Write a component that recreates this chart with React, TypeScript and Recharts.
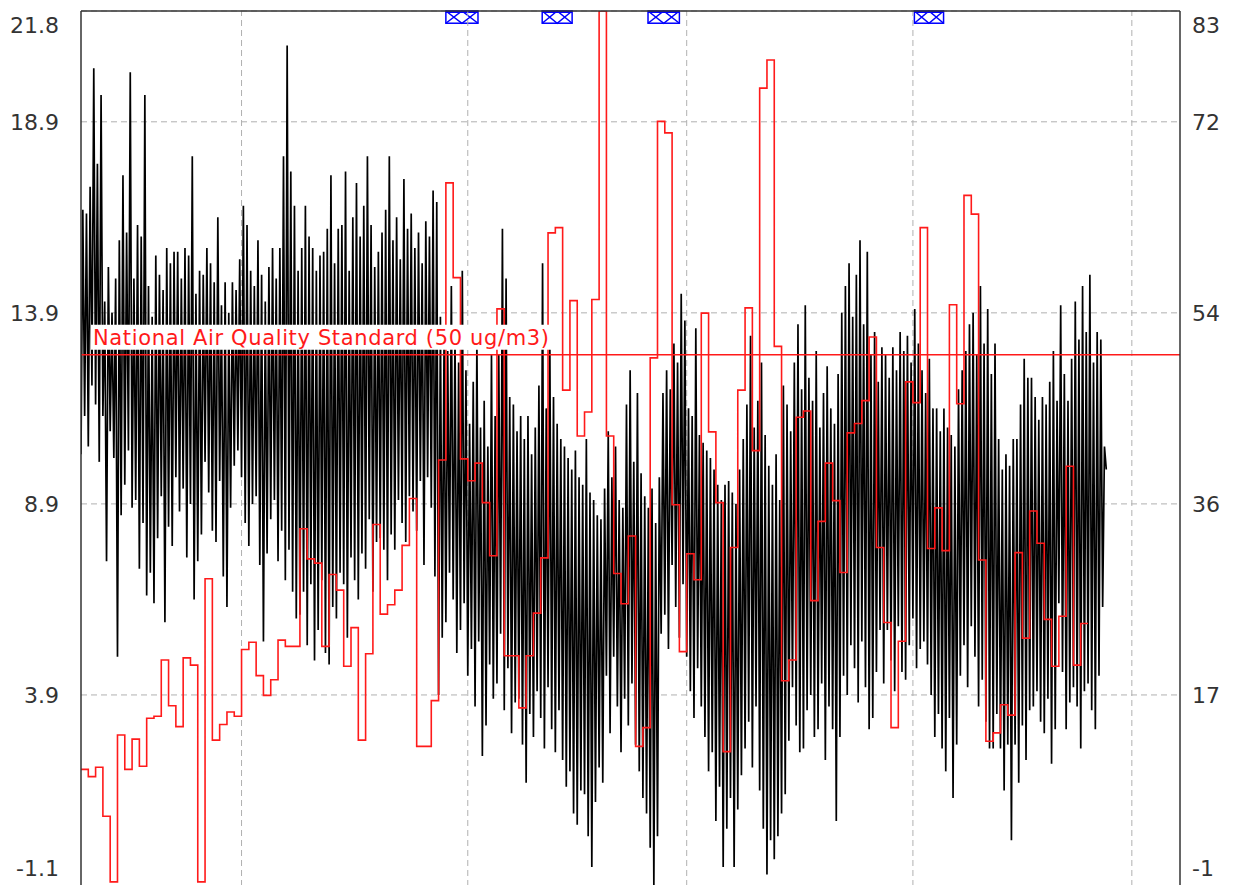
import React from 'react';
import { LineChart, Line, XAxis, YAxis, CartesianGrid, ReferenceLine, ReferenceArea } from 'recharts';

// temperature (deg C), 4 readings per day, left axis
const temperature = [
  10.2, 16.6, 11.2, 16.5, 10.4, 17.2, 12.0, 20.3, 11.5, 17.8, 10.0, 19.6, 11.2, 14.2, 7.4, 15.1,
  10.8, 13.9, 10.1, 14.8, 4.9, 15.8, 8.6, 17.5, 9.4, 16.0, 10.3, 20.2, 8.8, 14.8, 9.0, 16.2,
  7.2, 15.9, 8.4, 19.6, 6.5, 14.6, 7.1, 13.8, 6.3, 15.4, 8.0, 14.9, 9.1, 14.5, 5.8, 15.6,
  8.3, 15.2, 7.8, 15.5, 9.6, 15.5, 8.7, 14.8, 9.3, 15.6, 7.5, 15.4, 8.9, 18.0, 6.4, 14.4,
  7.4, 15.0, 8.1, 14.9, 10.0, 15.6, 9.2, 15.2, 8.2, 14.7, 7.9, 16.4, 9.5, 14.1, 7.0, 14.7,
  6.2, 13.9, 8.8, 14.7, 9.9, 14.5, 10.3, 15.3, 9.6, 16.7, 8.4, 16.2, 7.8, 15.0, 8.9, 14.6,
  9.1, 15.8, 7.3, 14.9, 5.3, 14.2, 7.6, 15.1, 8.5, 15.6, 9.0, 14.8, 7.4, 15.6, 8.2, 18.0,
  6.9, 20.9, 7.7, 17.6, 6.6, 16.7, 5.9, 15.0, 6.0, 15.6, 6.6, 16.7, 5.2, 15.9, 6.8, 15.6,
  4.8, 15.0, 5.6, 15.4, 6.9, 15.5, 5.0, 16.1, 4.7, 17.5, 6.2, 15.2, 5.9, 16.1, 7.1, 16.2,
  6.8, 17.6, 5.4, 15.0, 7.5, 16.4, 6.9, 17.3, 6.4, 15.9, 7.6, 16.7, 7.2, 18.0, 8.5, 16.2,
  6.6, 15.1, 7.9, 15.5, 8.0, 16.0, 7.7, 16.6, 6.9, 18.0, 8.1, 15.8, 7.7, 16.4, 9.0, 15.3,
  8.4, 17.4, 7.9, 16.1, 9.1, 16.5, 8.7, 15.6, 8.2, 16.0, 9.5, 15.2, 7.3, 16.3, 9.6, 15.9,
  8.8, 17.1, 7.0, 16.8, 3.9, 13.8, 5.4, 13.1, 5.8, 12.9, 7.1, 14.6, 6.4, 13.4, 5.0, 12.6,
  5.6, 15.0, 6.3, 12.4, 4.4, 11.0, 5.1, 12.1, 3.6, 13.2, 5.3, 10.9, 2.3, 11.6, 3.1, 10.4,
  4.7, 12.8, 3.8, 11.2, 4.2, 12.8, 5.5, 16.1, 3.5, 14.8, 4.6, 11.7, 2.9, 11.5, 3.7, 10.8,
  3.8, 11.2, 2.6, 10.6, 1.6, 11.2, 3.4, 10.2, 2.8, 10.9, 4.0, 12.0, 3.3, 15.2, 2.5, 11.4,
  4.1, 13.0, 3.0, 11.7, 2.4, 11.0, 3.5, 10.6, 2.2, 10.4, 1.5, 10.1, 1.9, 9.8, 0.8, 10.3,
  0.5, 9.6, 1.4, 9.4, 1.3, 10.6, 0.2, 9.2, -0.6, 9.0, 1.1, 8.6, 2.0, 8.5, 1.6, 9.3,
  4.4, 10.8, 2.9, 9.6, 4.9, 10.4, 3.6, 9.0, 2.4, 8.8, 3.8, 11.5, 3.1, 12.4, 4.2, 10.0,
  2.6, 11.8, 1.9, 9.7, 1.2, 9.1, 0.8, 8.8, -0.1, 9.3, -1.1, 8.4, 0.2, 9.6, 5.5, 11.8,
  6.0, 12.4, 5.1, 11.9, 7.3, 13.1, 6.2, 12.6, 5.4, 14.4, 6.8, 13.7, 4.9, 11.4, 4.0, 11.2,
  3.3, 13.5, 4.6, 10.7, 3.6, 10.5, 2.8, 10.3, 1.9, 10.1, 2.4, 9.8, 0.6, 9.4, 1.5, 9.0,
  -0.6, 9.4, 0.4, 9.5, 1.2, 9.2, -0.6, 8.9, 0.9, 9.8, 1.8, 10.6, 2.5, 11.5, 3.2, 13.3,
  2.0, 10.9, 3.6, 11.6, 1.4, 12.6, 0.4, 10.7, -0.8, 9.9, 0.1, 9.4, -0.4, 10.2, 0.2, 9.0,
  0.8, 12.0, 1.3, 11.5, 2.7, 10.8, 4.1, 12.6, 3.1, 13.6, 2.4, 11.9, 2.5, 14.1, 3.5, 12.2,
  3.9, 11.6, 2.8, 12.9, 3.0, 10.9, 4.2, 11.8, 2.2, 12.5, 3.6, 11.4, 3.0, 11.0, 0.6, 12.3,
  2.8, 13.9, 4.4, 14.6, 3.9, 15.2, 5.2, 13.8, 4.6, 14.9, 3.7, 15.8, 5.3, 13.6, 4.1, 15.5,
  3.0, 12.8, 3.3, 13.4, 4.5, 12.1, 5.6, 13.0, 4.2, 12.8, 5.6, 12.2, 4.8, 13.0, 4.0, 12.4,
  5.7, 13.4, 4.5, 12.9, 4.3, 13.3, 5.2, 12.6, 5.9, 14.0, 4.6, 13.1, 5.1, 12.4, 5.3, 11.8,
  4.7, 12.7, 3.9, 11.4, 2.8, 11.4, 3.4, 10.8, 2.5, 11.4, 1.9, 10.9, 3.3, 10.7, 1.2, 10.4,
  2.6, 11.9, 4.4, 12.4, 5.2, 12.9, 4.1, 13.6, 5.7, 13.9, 4.9, 12.8, 3.6, 14.6, 4.3, 13.1,
  3.2, 14.0, 2.5, 12.3, 2.5, 13.1, 3.4, 10.6, 2.5, 9.8, 1.4, 10.2, 2.6, 9.9, 0.1, 10.6,
  2.6, 10.6, 1.6, 11.5, 3.1, 12.7, 2.2, 12.2, 3.5, 12.2, 3.6, 11.7, 4.0, 11.1, 3.2, 11.7,
  2.9, 11.5, 3.8, 12.1, 2.1, 12.9, 3.0, 11.6, 6.3, 14.1, 4.5, 12.3, 3.0, 11.6, 3.7, 12.7,
  4.1, 14.2, 3.6, 13.2, 2.5, 14.6, 4.0, 13.4, 4.2, 14.9, 3.5, 12.6, 3.0, 13.4, 4.4, 13.2,
  6.2, 10.4, 9.8,
];

// daily PM10 (ug/m3), right axis
const pm10 = [
  10.2, 9.5, 10.4, 5.7, -0.6, 13.5, 10.2, 13.1, 10.5, 15.1, 15.3, 20.7, 16.3, 14.3, 20.9,
  20.2, -0.6, 28.5, 13.0, 14.5, 15.7, 15.3, 21.7, 22.4, 19.2, 17.3, 18.8, 22.6, 22.0, 22.0,
  33.3, 30.4, 30.0, 22.0, 28.9, 27.4, 20.1, 23.8, 13.0, 21.3,
  33.7, 25.1, 26.0, 27.4, 31.7, 36.2, 12.4, 12.4, 16.8, 39.9,
  66.5, 57.4, 40.0, 37.9, 39.6, 35.8, 30.7, 54.4, 21.1, 21.1,
  16.1, 21.1, 25.2, 30.5, 61.7, 62.2, 46.6, 55.2, 42.2, 44.5,
  55.3, 83.0, 42.2, 29.0, 26.1, 32.6, 12.4, 14.2, 49.7, 72.4,
  71.3, 35.6, 21.5, 30.9, 28.4, 54.0, 42.6, 35.8, 11.9, 31.5,
  46.6, 54.5, 40.8, 75.6, 78.3, 50.8, 18.7, 20.7, 44.0, 44.6,
  26.4, 34.0, 39.6, 36.0, 29.1, 42.5, 43.4, 45.6, 51.7, 31.5,
  24.3, 14.2, 22.5, 47.4, 45.4, 62.2, 31.4, 35.3, 31.2, 54.8,
  45.3, 65.3, 63.5, 30.3, 12.9, 13.7, 16.4, 15.4, 31.0, 22.8,
  35.0, 31.9, 24.6, 20.1, 24.9, 39.3, 20.2, 24.2,
];

const monthStarts = [22, 53, 83, 114, 144];
const episodes = [
  [50, 54.4],
  [63.2, 67.3],
  [77.7, 82],
  [114.2, 118.2],
];
const leftTicks = [-1.1, 3.9, 8.9, 13.9, 18.9, 21.8];
const STANDARD = 50;

const LEFT_MIN = -1.1;
const LEFT_MAX = 21.8;
const RIGHT_MIN = -1;
const RIGHT_MAX = 83;
// right ticks sit on the same gridlines as the left ones
const rightTicks = leftTicks.map(
  (v) => RIGHT_MIN + ((v - LEFT_MIN) * (RIGHT_MAX - RIGHT_MIN)) / (LEFT_MAX - LEFT_MIN)
);

const tempData = temperature.map((v, i) => ({ x: i * 0.25, temp: v }));
const pmData = pm10
  .map((v, i) => ({ x: i, pm: v }))
  .concat([{ x: pm10.length, pm: pm10[pm10.length - 1] }]);

const PLOT_TOP = 3;
const PLOT_BOTTOM = 878;
const FONT = '"DejaVu Sans", Verdana, sans-serif';
const GRID = '#b0b0b0';

function clampY(y: number) {
  if (y < PLOT_TOP + 14) return PLOT_TOP + 14;
  if (y > PLOT_BOTTOM - 18) return PLOT_BOTTOM - 18;
  return y;
}

const LeftTick = (props: any) => {
  const { x, y, payload } = props;
  return (
    <text x={x} y={clampY(y)} dy={8} textAnchor="end" fill="#333" fontSize={22} fontFamily={FONT}>
      {Number(payload.value).toFixed(1)}
    </text>
  );
};

const RightTick = (props: any) => {
  const { x, y, payload } = props;
  return (
    <text x={x} y={clampY(y)} dy={8} textAnchor="start" fill="#333" fontSize={22} fontFamily={FONT}>
      {Math.round(payload.value)}
    </text>
  );
};

const StandardLabel = (props: any) => {
  const { viewBox } = props;
  const x = viewBox.x + 12;
  const y = viewBox.y;
  return (
    <g>
      <rect x={x - 2} y={y - 30} width={462} height={25} fill="#fff" />
      <text x={x} y={y - 10} fill="#ff1a1a" fontSize={21} fontFamily={FONT} textLength={456}>
        National Air Quality Standard (50 ug/m3)
      </text>
    </g>
  );
};

const HatchBox = (props: any) => {
  const { x, y, width, height } = props;
  const half = width / 2;
  return (
    <g>
      <rect x={x} y={y} width={width} height={height} fill="#fff" stroke="#0000ff" strokeWidth={1.5} />
      <path
        d={`M${x},${y} L${x + half},${y + height} L${x + width},${y} M${x},${y + height} L${x + half},${y} L${x + width},${y + height}`}
        stroke="#0000ff"
        strokeWidth={1.5}
        fill="none"
      />
      <line x1={x} y1={y + 1} x2={x + width} y2={y + 1} stroke="#0000ff" strokeWidth={2} />
    </g>
  );
};

export default function App() {
  return (
    <div style={{ width: 1226, height: 885, marginBottom: -8 }}>
      <LineChart width={1226} height={885} margin={{ top: 3, right: 0, bottom: 7, left: 0 }}>
        <CartesianGrid stroke={GRID} strokeDasharray="6 4" vertical={false} yAxisId="left" />
        <XAxis
          dataKey="x"
          type="number"
          domain={[0, 150.6]}
          allowDataOverflow
          ticks={monthStarts}
          tick={false}
          tickLine={false}
          height={0}
          axisLine={{ stroke: '#333', strokeWidth: 1.5 }}
        />
        <YAxis
          yAxisId="left"
          type="number"
          domain={[LEFT_MIN, LEFT_MAX]}
          allowDataOverflow
          ticks={leftTicks}
          tick={<LeftTick />}
          tickLine={false}
          tickSize={0}
          tickMargin={22}
          width={73}
          interval={0}
          axisLine={{ stroke: '#333', strokeWidth: 1.5 }}
        />
        <YAxis
          yAxisId="right"
          orientation="right"
          type="number"
          domain={[RIGHT_MIN, RIGHT_MAX]}
          allowDataOverflow
          ticks={rightTicks}
          tick={<RightTick />}
          tickLine={false}
          tickSize={0}
          tickMargin={12}
          width={54}
          interval={0}
          axisLine={{ stroke: '#333', strokeWidth: 1.5 }}
        />
        {monthStarts.map((d) => (
          <ReferenceLine key={d} yAxisId="left" x={d} stroke={GRID} strokeDasharray="6 4" />
        ))}
        <Line
          yAxisId="left"
          data={tempData}
          dataKey="temp"
          type="linear"
          stroke="#000"
          strokeWidth={1.7}
          dot={false}
          isAnimationActive={false}
        />
        <Line
          yAxisId="right"
          data={pmData}
          dataKey="pm"
          type="stepAfter"
          stroke="#ff1a1a"
          strokeWidth={1.6}
          dot={false}
          isAnimationActive={false}
        />
        <ReferenceLine
          yAxisId="right"
          y={STANDARD}
          stroke="#ff1a1a"
          strokeWidth={1.5}
          label={<StandardLabel />}
        />
        {episodes.map(([a, b], i) => (
          <ReferenceArea
            key={i}
            yAxisId="left"
            x1={a}
            x2={b}
            y1={21.48}
            y2={LEFT_MAX}
            shape={<HatchBox />}
          />
        ))}
        <ReferenceLine yAxisId="left" y={LEFT_MAX} stroke="#333" strokeWidth={1.5} />
      </LineChart>
    </div>
  );
}
